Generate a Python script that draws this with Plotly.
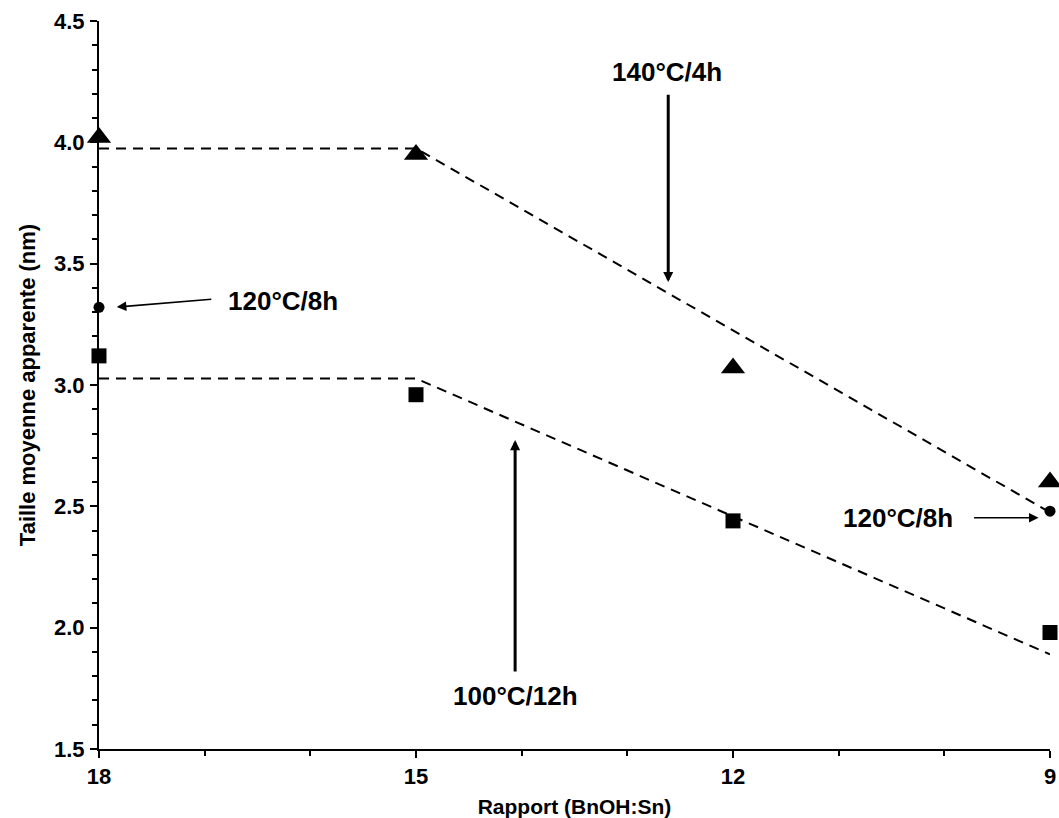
import plotly.graph_objects as go

# ---- data ----
ratios = [18, 15, 12, 9]
size_140C_4h = [4.02, 3.95, 3.07, 2.60]
size_100C_12h = [3.12, 2.96, 2.44, 1.98]
ratios_120C = [18, 9]
size_120C_8h = [3.32, 2.48]

trend_x = [18, 15, 9]
trend_upper = [3.975, 3.975, 2.475]
trend_lower = [3.027, 3.027, 1.89]

x_ticks = [18, 15, 12, 9]
y_ticks = [1.5, 2.0, 2.5, 3.0, 3.5, 4.0, 4.5]

FONT = "Liberation Sans, Arial, sans-serif"

fig = go.Figure()

fig.add_trace(go.Scatter(x=trend_x, y=trend_upper, mode="lines",
                         line=dict(color="black", width=2, dash="10px,7px"),
                         showlegend=False, hoverinfo="skip"))
fig.add_trace(go.Scatter(x=trend_x, y=trend_lower, mode="lines",
                         line=dict(color="black", width=2, dash="10px,7px"),
                         showlegend=False, hoverinfo="skip"))

fig.add_trace(go.Scatter(x=ratios, y=size_140C_4h, mode="markers", name="140°C/4h",
                         marker=dict(symbol="triangle-up", size=21, color="black"),
                         cliponaxis=False, showlegend=False))
fig.add_trace(go.Scatter(x=ratios, y=size_100C_12h, mode="markers", name="100°C/12h",
                         marker=dict(symbol="square", size=15, color="black"),
                         cliponaxis=False, showlegend=False))
fig.add_trace(go.Scatter(x=ratios_120C, y=size_120C_8h, mode="markers", name="120°C/8h",
                         marker=dict(symbol="circle", size=11, color="black"),
                         cliponaxis=False, showlegend=False))

ann_font = dict(family=FONT, size=26, color="black", weight="bold")

# text labels
labels = [
    ("140°C/4h", 12.62, 4.289),
    ("120°C/8h", 16.26, 3.345),
    ("100°C/12h", 14.06, 1.718),
    ("120°C/8h", 10.44, 2.453),
]
for txt, lx, ly in labels:
    fig.add_annotation(x=lx, y=ly, xref="x", yref="y", text=txt,
                       showarrow=False, font=ann_font)

# arrows (tail -> head)
arrows = [
    (12.613, 4.202, 12.613, 3.424, 3.0, 0.67),
    (16.923, 3.354, 17.832, 3.321, 1.6, 1.2),
    (14.062, 1.813, 14.062, 2.773, 3.0, 0.67),
    (9.733, 2.453, 9.108, 2.453, 1.6, 1.2),
]
for tx, ty, hx, hy, w, s in arrows:
    fig.add_annotation(x=hx, y=hy, ax=tx, ay=ty, xref="x", yref="y",
                       axref="x", ayref="y", text="", showarrow=True,
                       arrowhead=2, arrowwidth=w, arrowsize=s, arrowcolor="black")

tick_font = dict(family=FONT, size=22, color="black", weight="bold")

fig.update_layout(
    width=1059, height=818,
    margin=dict(l=99, r=9, t=21, b=69, autoexpand=False),
    paper_bgcolor="white", plot_bgcolor="white",
    font=dict(family=FONT, color="black"),
    xaxis=dict(
        range=[18, 9], tickvals=x_ticks, ticktext=[str(v) for v in x_ticks],
        automargin=False,
        showgrid=False, zeroline=False, showline=True, linecolor="black", linewidth=2,
        ticks="outside", ticklen=7, tickwidth=2, tickcolor="black",
        tickfont=tick_font, ticklabelstandoff=0,
        minor=dict(dtick=1, ticks="outside", ticklen=5, tickwidth=2, tickcolor="black", showgrid=False),
        title=dict(text="Rapport (BnOH:Sn)",
                   font=dict(family=FONT, size=21, color="black", weight="bold"), standoff=12),
    ),
    yaxis=dict(
        range=[1.5, 4.5], tickvals=y_ticks, ticktext=[f"{v:.1f}" for v in y_ticks],
        automargin=False,
        showgrid=False, zeroline=False, showline=True, linecolor="black", linewidth=2,
        ticks="outside", ticklen=7, tickwidth=2, tickcolor="black",
        tickfont=tick_font, ticklabelstandoff=1,
        minor=dict(dtick=0.1, ticks="outside", ticklen=5, tickwidth=2, tickcolor="black", showgrid=False),
        title=dict(text="Taille moyenne apparente (nm)",
                   font=dict(family=FONT, size=22, color="black", weight="bold"), standoff=12),
    ),
)

fig.write_html("out.html", config={"displayModeBar": False},
               post_script="document.body.style.margin='0px';")
